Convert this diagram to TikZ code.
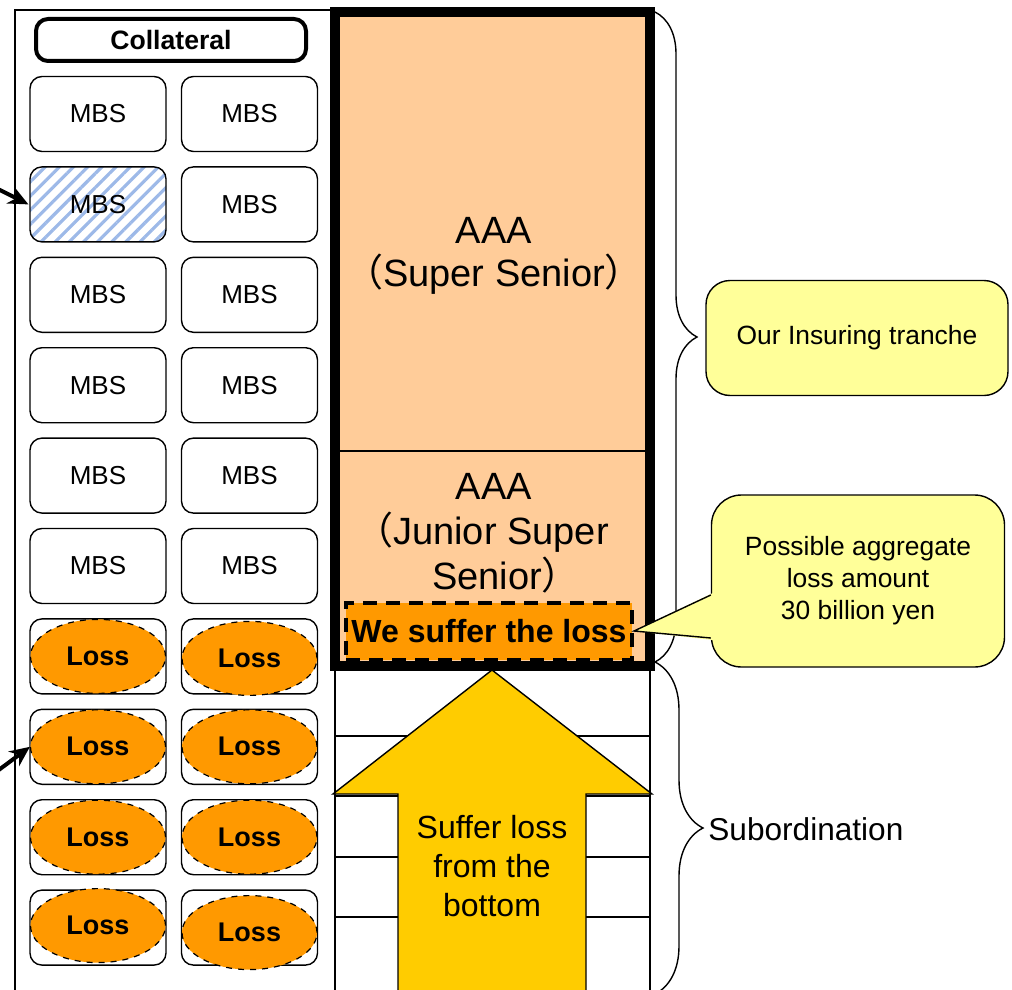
\documentclass[tikz,border=0pt]{standalone}
\usepackage{fontspec}
\setmainfont{Liberation Sans}
\newfontfamily\cjk{Noto Sans CJK JP}
\usetikzlibrary{positioning,shapes.geometric,patterns.meta,decorations.pathreplacing,calc,arrows.meta}
\definecolor{peach}{HTML}{FFCC99}
\definecolor{lossorange}{HTML}{FF9900}
\definecolor{arrowyellow}{HTML}{FFCC00}
\definecolor{noteyellow}{HTML}{FFFF99}
\definecolor{hatchblue}{HTML}{9DB9E8}
\begin{document}
\begin{tikzpicture}[
  x=0.5pt, y=-0.5pt,
  mbs/.style={rectangle, rounded corners=6pt, draw, line width=0.7pt, minimum width=68pt, minimum height=37.5pt, font=\fontsize{13}{15}\selectfont},
  loss/.style={ellipse, draw, dashed, line width=0.6pt, fill=lossorange, minimum width=67.5pt, minimum height=37pt, inner sep=0pt, font=\fontsize{13.5}{15}\selectfont\bfseries},
  note/.style={rectangle, draw, line width=0.7pt, fill=noteyellow, align=center, font=\fontsize{13.2}{16}\selectfont},
  curly/.style={decorate, line width=0.7pt},
  node distance=45.2pt
]
\clip (0,0) rectangle (1012,990);
\useasboundingbox (0,0) rectangle (1012,990);

% collateral pool
\draw[line width=0.7pt] (15,10) rectangle (335,1000);
\node[draw, rounded corners=6pt, line width=2pt, minimum width=135pt, minimum height=21pt, font=\fontsize{13.3}{15}\selectfont\bfseries] (coll) at (171,40) {Collateral};

\node[mbs] (r1l) at (98,114) {MBS};
\node[mbs, right of=r1l, node distance=75.75pt] (r1r) {MBS};
\node[mbs, below of=r1l, pattern={Lines[angle=45, distance=5pt, line width=1.6pt]}, pattern color=hatchblue] (r2l) {MBS};
\node[mbs, below of=r1r] (r2r) {MBS};
\node[mbs, below of=r2l] (r3l) {MBS};
\node[mbs, below of=r2r] (r3r) {MBS};
\node[mbs, below of=r3l] (r4l) {MBS};
\node[mbs, below of=r3r] (r4r) {MBS};
\node[mbs, below of=r4l] (r5l) {MBS};
\node[mbs, below of=r4r] (r5r) {MBS};
\node[mbs, below of=r5l] (r6l) {MBS};
\node[mbs, below of=r5r] (r6r) {MBS};
\node[mbs, below of=r6l] (r7l) {};
\node[mbs, below of=r6r] (r7r) {};
\node[mbs, below of=r7l] (r8l) {};
\node[mbs, below of=r7r] (r8r) {};
\node[mbs, below of=r8l] (r9l) {};
\node[mbs, below of=r8r] (r9r) {};
\node[mbs, below of=r9l] (r10l) {};
\node[mbs, below of=r9r] (r10r) {};

\node[loss] (loss7l) at (r7l) {Loss};
\node[loss, yshift=-1pt] (loss7r) at (r7r) {Loss};
\node[loss] (loss8l) at (r8l) {Loss};
\node[loss] (loss8r) at (r8r) {Loss};
\node[loss] (loss9l) at (r9l) {Loss};
\node[loss] (loss9r) at (r9r) {Loss};
\node[loss, yshift=1pt] (loss10l) at (r10l) {Loss};
\node[loss, yshift=-2.5pt] (loss10r) at (r10r) {Loss};

\coordinate (hatchtail) at (-4,188);
\coordinate (losstail) at (-4,772);
\draw[-{Stealth[length=10pt,width=9pt]}, line width=2pt] (hatchtail) -- (r2l.west);
\draw[-{Stealth[length=10pt,width=9pt]}, line width=2pt] (losstail) -- (loss8l.west);

% tranches
\fill[peach] (335,12) rectangle (650,666);
\draw[line width=0.7pt] (335,451) -- (650,451);
\node[align=center, font=\fontsize{19}{21.5}\selectfont] (super) at (494,256) {AAA\\{\cjk （}Super Senior{\cjk ）}};
\node[align=center, font=\fontsize{19}{22.5}\selectfont] (junior) at (494,533) {AAA\\{\cjk （}Junior Super\rule{12pt}{0pt}\\\rule{12pt}{0pt}Senior{\cjk ）}};
\node[draw, dashed, dash pattern=on 7pt off 4.5pt, line width=2pt, fill=lossorange, minimum width=143pt, minimum height=28.5pt, inner sep=0pt, font=\fontsize{16}{18}\selectfont\bfseries] (suffer) at (489,631) {We suffer the loss};
\draw[line width=5pt] (335,12) rectangle (650,666);

\draw[line width=0.7pt] (335,668) rectangle (650,1000);
\draw[line width=0.7pt] (335,736) -- (650,736);
\draw[line width=0.7pt] (335,796) -- (650,796);
\draw[line width=0.7pt] (335,857) -- (650,857);
\draw[line width=0.7pt] (335,917) -- (650,917);

% loss arrow
\draw[fill=arrowyellow, line width=0.7pt] (398,1000) -- (398,794) -- (333,794) -- (492,670) -- (652,794) -- (586,794) -- (586,1000);
\node[align=center, font=\fontsize{16}{19.5}\selectfont] (bottomup) at (492,866) {Suffer loss\\from the\\bottom};

% braces and notes
\draw[curly, decoration={brace, amplitude=21pt}] (655,12) -- (655,662);
\draw[curly, decoration={brace, amplitude=24pt}] (655,662) -- (655,994);
\node[note, rounded corners=12pt, minimum width=151pt, minimum height=57.5pt] (insuring) at (857,338) {Our Insuring tranche};
\node[right, font=\fontsize{15.8}{18}\selectfont, inner sep=0pt] (subord) at (708,829) {Subordination};

\node[note, rounded corners=15pt, minimum width=146.5pt, minimum height=86pt] (aggr) at (858,581) {Possible aggregate\\loss amount\\30 billion yen};
\fill[noteyellow] ($(aggr.west)+(2,12)$) -- (suffer.east) -- ($(aggr.west)+(2,59)$) -- cycle;
\draw[line width=0.7pt] ($(aggr.west)+(0,14)$) -- (suffer.east) -- ($(aggr.west)+(0,57)$);
\end{tikzpicture}
\end{document}
